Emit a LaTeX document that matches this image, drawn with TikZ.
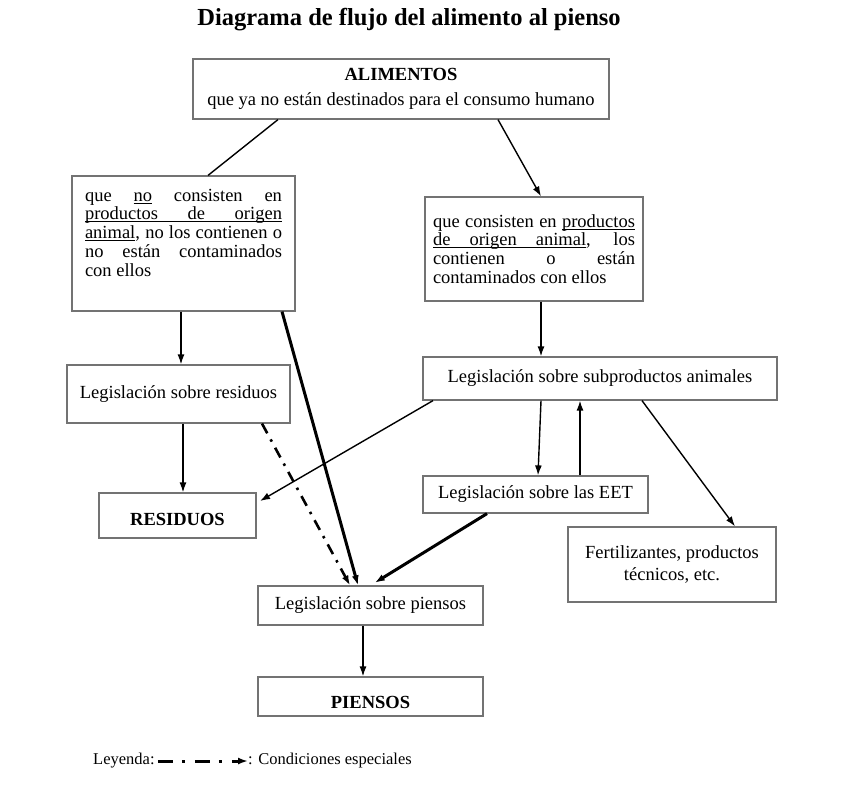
\documentclass[tikz,border=0pt]{standalone}
\usepackage{fontspec}
\setmainfont{Liberation Serif}
\usetikzlibrary{arrows.meta, positioning}
\tikzset{
    >={Latex[length=10pt,width=7pt]},
    caja/.style={draw=black!55, line width=1.2pt, inner sep=0pt,
        font=\fontsize{18.5}{18.7}\selectfont},
    linea/.style={line width=1.4pt},
    flecha/.style={->, line width=1.4pt},
    gruesa/.style={->, line width=3pt},
    especial/.style={->, line width=2.6pt, dash pattern=on 11pt off 7pt on 2.5pt off 7pt}
}
% underlined word and underlined (stretchable) space
\newsavebox{\palbox}
\newcommand{\subray}[1]{\sbox{\palbox}{#1}\rlap{\rule[-2.1pt]{\wd\palbox}{0.8pt}}\usebox{\palbox}}
\newcommand{\ulsp}{\leaders\hrule height -1.3pt depth 2.1pt\hskip\fontdimen2\font plus\fontdimen3\font minus\fontdimen4\font\relax}

\begin{document}
\begin{tikzpicture}[x=1pt, y=-1pt]
\useasboundingbox (0,0) rectangle (854,800);

% title
\node[font=\fontsize{24.5}{28}\selectfont\bfseries] (titulo) at (409,20) {Diagrama de flujo del alimento al pienso};

% boxes
\node[caja, align=center, minimum width=416pt, minimum height=60pt] (alim) at (401,89)
    {\textbf{ALIMENTOS}\\[6pt]que ya no están destinados para el consumo humano};
\node[caja, minimum width=223pt, minimum height=135pt] (nocon) at (183.5,243.5)
    {\parbox[c][109pt][t]{197pt}{\sloppy\hyphenpenalty=10000
    que \subray{no} consisten en\linebreak \subray{productos}\ulsp\subray{de}\ulsp\subray{origen}\linebreak \subray{animal}, no los contienen o\linebreak no están contaminados\linebreak con ellos}};
\node[caja, minimum width=218pt, minimum height=104pt] (sicon) at (534,249)
    {\parbox{202pt}{\sloppy\hyphenpenalty=10000
    que consisten en \subray{productos}\linebreak \subray{de}\ulsp\subray{origen}\ulsp\subray{animal}, los\linebreak contienen o están\linebreak contaminados con ellos}};
\node[caja, minimum width=223pt, minimum height=58pt] (lres) at (178.5,394) {Legislación sobre residuos};
\node[caja, minimum width=354pt, minimum height=43pt] (lsub) at (600,378.5) {Legislación sobre subproductos animales};
\node[caja, minimum width=157pt, minimum height=45pt] (res) at (177.5,515.5)
    {\raisebox{-4pt}[\height][\depth]{\textbf{RESIDUOS}}};
\node[caja, minimum width=225pt, minimum height=37pt] (leet) at (535.5,494.5) {Legislación sobre las EET};
\node[caja, align=center, minimum width=208pt, minimum height=75pt] (fert) at (672,564.5)
    {Fertilizantes, productos\\[3pt]técnicos, etc.};
\node[caja, minimum width=225pt, minimum height=39pt] (lpie) at (370.5,605.5) {Legislación sobre piensos};
\node[caja, minimum width=225pt, minimum height=39pt] (pien) at (370.5,696.5)
    {\raisebox{-6pt}[\height][\depth]{\textbf{PIENSOS}}};

% from ALIMENTOS
\draw[linea] ([xshift=-123pt]alim.south) -- ([xshift=24.5pt]nocon.north);
\draw[flecha] ([xshift=97pt]alim.south) -- ([xshift=7pt]sicon.north);
% left branch
\draw[flecha] ([xshift=-2.5pt]nocon.south) -- ([xshift=2.5pt]lres.north);
\draw[flecha] ([xshift=4.5pt]lres.south) -- ([xshift=5.5pt]res.north);
\draw[gruesa] ([xshift=98.5pt]nocon.south) -- ([xshift=-12.5pt]lpie.north);
\draw[especial] ([xshift=83.5pt]lres.south) -- ([xshift=-20.5pt]lpie.north);
% right branch
\draw[flecha] ([xshift=7pt]sicon.south) -- ([xshift=-59pt]lsub.north);
\draw[flecha, shorten >=4pt] ([xshift=-167pt]lsub.south) -- ([yshift=12.5pt]res.east);
\draw[flecha] ([xshift=-59pt]lsub.south) -- ([xshift=2.5pt]leet.north);
\draw[flecha] ([xshift=44.5pt]leet.north) -- ([xshift=-20pt]lsub.south);
\draw[flecha] ([xshift=42pt]lsub.south) -- ([xshift=63pt]fert.north);
\draw[gruesa, shorten >=5pt] ([xshift=-48.5pt]leet.south) -- (lpie.north);
% to PIENSOS
\draw[flecha] ([xshift=-7.5pt]lpie.south) -- ([xshift=-7.5pt]pien.north);

% legend
\node[anchor=west, inner sep=0pt, font=\fontsize{16.5}{18}\selectfont] (leyenda) at (93,761) {Leyenda:};
\node[anchor=west, inner sep=0pt, font=\fontsize{16.5}{18}\selectfont] (condic) at (248,761) {: Condiciones especiales};
\draw[especial, line width=3pt, dash pattern=on 15pt off 9pt on 3pt off 10pt]
    ([xshift=3pt]leyenda.east) -- (condic.west);
\end{tikzpicture}
\end{document}
